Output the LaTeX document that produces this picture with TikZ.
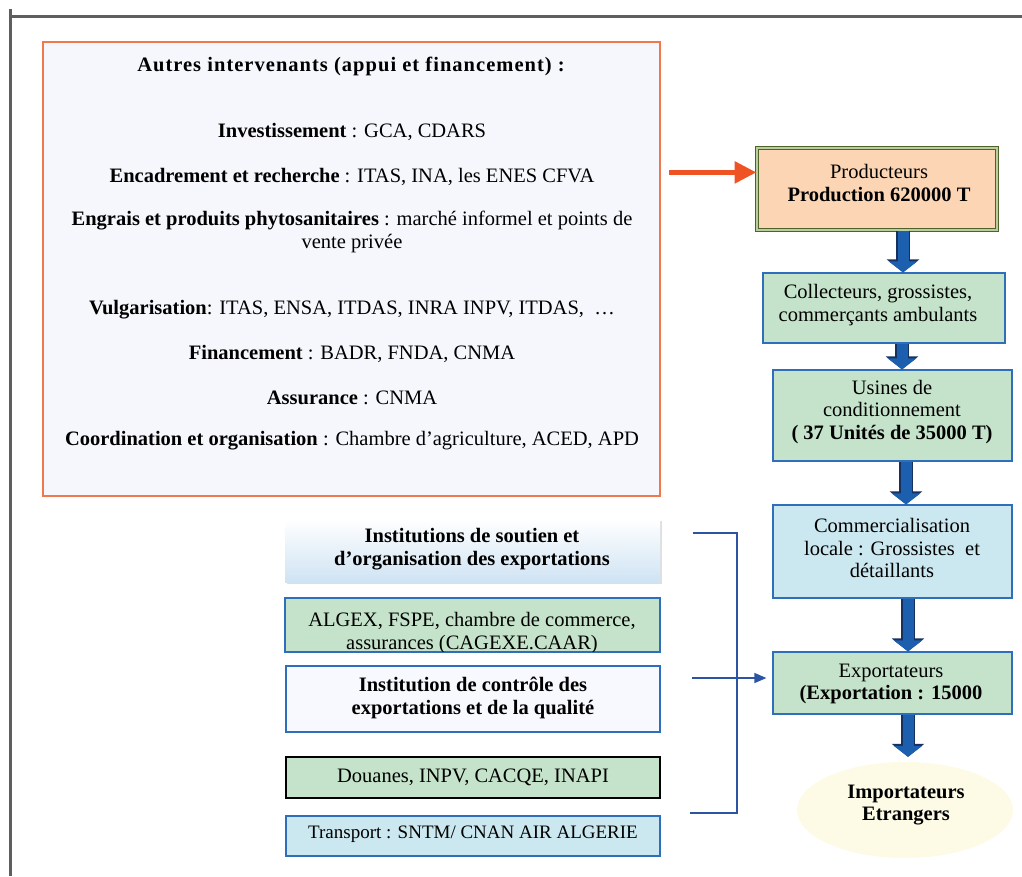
\documentclass[tikz,border=0pt]{standalone}
\usepackage{fontspec}
\setmainfont{Liberation Serif}
\usetikzlibrary{arrows.meta,shadows,calc,shapes.geometric}
\definecolor{framegray}{HTML}{5E5E5E}
\definecolor{orng}{HTML}{F0784E}
\definecolor{orarrow}{HTML}{EF5323}
\definecolor{mainfill}{HTML}{F5F7FC}
\definecolor{peach}{HTML}{FCD5B4}
\definecolor{dgreen}{HTML}{4F6228}
\definecolor{dgreenlight}{HTML}{B9CDA0}
\definecolor{gfill}{HTML}{C5E3CA}
\definecolor{bblue}{HTML}{2F6EBA}
\definecolor{lbfill}{HTML}{CBE8F0}
\definecolor{arrowblue}{HTML}{1C5FAF}
\definecolor{arrownavy}{HTML}{17305E}
\definecolor{cream}{HTML}{FDFAE6}
\definecolor{instblue}{HTML}{CFE3F3}
\definecolor{ctrlfill}{HTML}{F8F9FE}
\definecolor{brk}{HTML}{2B55A3}
\newcommand\myfs{\fontsize{20.5}{22.5}\selectfont}
\newcommand\mysmallfs{\fontsize{19}{21}\selectfont}
\begin{document}
\begin{tikzpicture}[x=1pt,y=-1pt,
  txt/.style={font=\myfs, align=center, text=black, inner sep=0pt},
  bx/.style={draw=bblue, line width=1.2pt, inner sep=0pt},
  blockarrow/.style={line width=11pt, draw=arrowblue, -{Triangle[width=28pt,length=11pt]},
     preaction={draw=arrownavy, line width=14pt, -{Triangle[width=32pt,length=13pt]}}},
  orangearrow/.style={draw=orarrow, line width=5.5pt, -{Triangle[width=21pt,length=22pt]}},
  brkline/.style={draw=brk, line width=1.3pt},
  framel/.style={draw=framegray, line width=3pt}]
\useasboundingbox (0,0) rectangle (1022,876);
% frame
\draw[framel] (10,9) -- (10,876);
\draw[framel] (9,16) -- (1022,16);

% main box
\node[draw=orng, line width=1.5pt, fill=mainfill, minimum width=617pt, minimum height=454pt] (main) at (351.5,269) {};
\node[txt] (t0) at (351,66) {\bfseries\addfontfeatures{LetterSpace=5}Autres intervenants (appui et financement) :};
\node[txt] (t1) at (352,132) {\textbf{Investissement} : GCA, CDARS};
\node[txt] (t2) at (352,177) {\textbf{Encadrement et recherche} : ITAS, INA, les ENES CFVA};
\node[txt] (t3) at (352,232) {\textbf{Engrais et produits phytosanitaires} : marché informel et points de\\vente privée};
\node[txt] (t4) at (352,310) {\textbf{Vulgarisation}: ITAS, ENSA, ITDAS, INRA INPV, ITDAS, \ \ldots};
\node[txt] (t5) at (352,354) {\textbf{Financement} : BADR, FNDA, CNMA};
\node[txt] (t6) at (352,398) {\textbf{Assurance} : CNMA};
\node[txt] (t7) at (352,441) {\textbf{Coordination et organisation} : Chambre d'agriculture, ACED, APD};

% right column
\node[draw=dgreen, double=dgreenlight, double distance=1.2pt, line width=1pt, fill=peach, minimum width=240pt, minimum height=82pt] (prod) at (877,189) {};
\node[txt] (prodt) at (879,183) {Producteurs\\\textbf{Production 620000 T}};

\node[bx, fill=gfill, minimum width=242pt, minimum height=70pt] (coll) at (884,308) {};
\node[txt] (collt) at (878,305) {Collecteurs, grossistes,\\commerçants ambulants};

\node[bx, fill=gfill, minimum width=239pt, minimum height=91pt] (usin) at (892.5,415.5) {};
\node[txt] (usint) at (892,412) {Usines de\\conditionnement\\\textbf{( 37 Unités de 35000 T)}};

\node[bx, fill=lbfill, minimum width=239pt, minimum height=93pt] (comm) at (892.5,551.5) {};
\node[txt] (commt) at (892,548) {Commercialisation\\locale : Grossistes \ et\\détaillants};

\node[bx, fill=gfill, minimum width=239pt, minimum height=62pt] (expo) at (892.5,683) {};
\node[txt] (expot) at (891,684) {Exportateurs\\\textbf{(Exportation : 15000}};

\node[ellipse, fill=cream, minimum width=216pt, minimum height=96pt, inner sep=0pt] (imp) at (905,810) {};
\node[txt] (impt) at (906,805) {\textbf{Importateurs}\\\textbf{Etrangers}};

% left lower column
\node[top color=white, bottom color=instblue, minimum width=375pt, minimum height=63pt, inner sep=0pt,
      drop shadow={shadow xshift=2pt, shadow yshift=-2pt, opacity=0.25}] (inst) at (472.5,550.5) {};
\node[txt] (instt) at (472,549) {\textbf{Institutions de soutien et}\\\textbf{d’organisation des exportations}};

\node[bx, fill=gfill, minimum width=375pt, minimum height=54pt] (algex) at (472.5,625) {};
\begin{scope}
  \clip ([xshift=1pt,yshift=1pt]algex.south west) rectangle ([xshift=-1pt,yshift=-1pt]algex.north east);
  \node[txt] (algext) at (472,633) {ALGEX, FSPE, chambre de commerce,\\assurances (CAGEXE.CAAR)};
\end{scope}

\node[bx, fill=ctrlfill, minimum width=374pt, minimum height=66pt] (ctrl) at (473,699) {};
\node[txt] (ctrlt) at (473,698) {\textbf{Institution de contrôle des}\\\textbf{exportations et de la qualité}};

\node[draw=black, line width=1.2pt, fill=gfill, minimum width=374pt, minimum height=41pt, inner sep=0pt] (doua) at (473,777.5) {};
\node[txt] (douat) at (473,777) {Douanes, INPV, CACQE, INAPI};

\node[bx, fill=lbfill, minimum width=374pt, minimum height=40pt] (trans) at (473,836) {};
\node[txt, font=\mysmallfs] (transt) at (473,834) {Transport : SNTM/ CNAN AIR ALGERIE};

% orange arrow
\coordinate (oa) at ($(prod.north west)!0.3!(prod.south west)$);
\draw[orangearrow, shorten <=8pt] (main.east |- oa) -- (oa);

% block arrows
\coordinate (x1) at (903,0);
\coordinate (x2) at (902,0);
\coordinate (x3) at (906,0);
\coordinate (x4) at (908,0);
\draw[blockarrow] (prod.south -| x1) -- (coll.north -| x1);
\draw[blockarrow] (coll.south -| x2) -- (usin.north -| x2);
\draw[blockarrow] (usin.south -| x3) -- (comm.north -| x3);
\draw[blockarrow] (comm.south -| x4) -- (expo.north -| x4);
\draw[blockarrow, shorten >=5pt] (expo.south -| x4) -- (imp.north -| x4);

% bracket
\coordinate (bt) at (693,533);
\coordinate (bb) at (690,813);
\coordinate (bx) at (737,0);
\draw[brkline] (bt) -- (bt -| bx) -- (bb -| bx) -- (bb);
\coordinate (ain) at (692,678);
\draw[brkline, -{Triangle[width=10pt,length=12pt]}, shorten >=6pt] (ain) -- (ain -| expo.west);
\end{tikzpicture}
\end{document}
